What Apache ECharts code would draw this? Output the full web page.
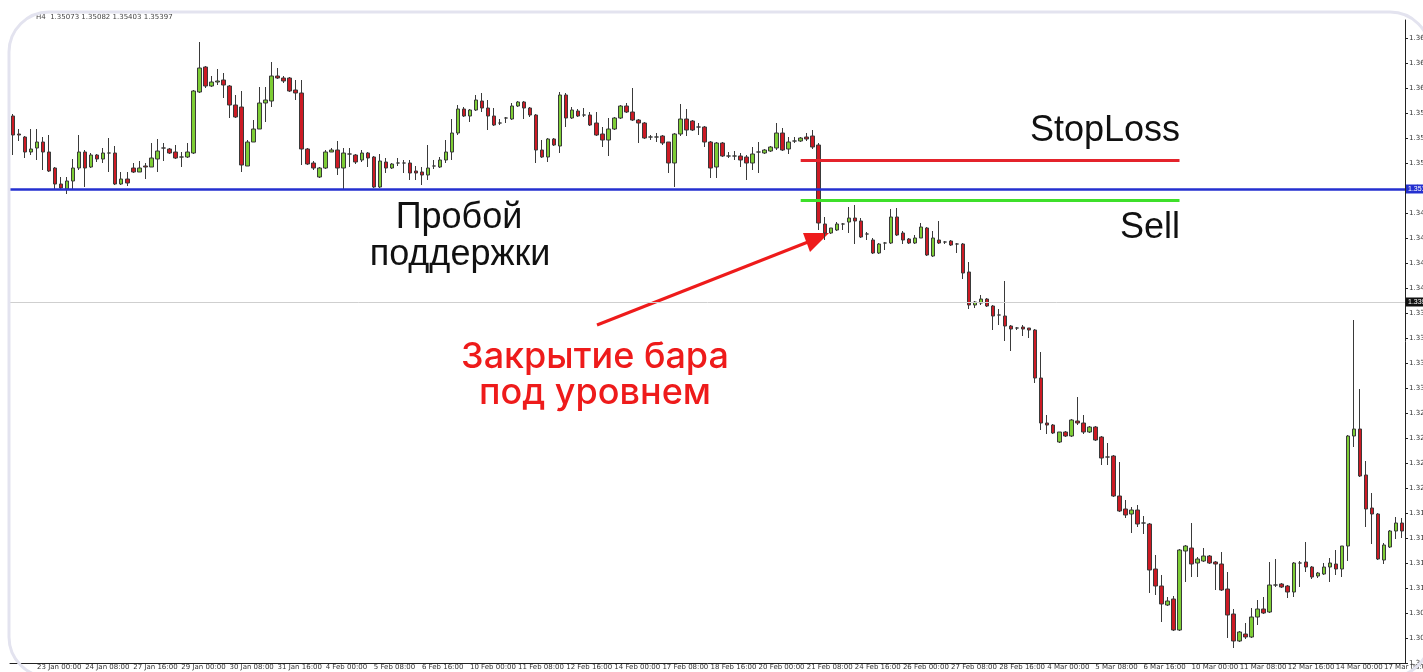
<!DOCTYPE html>
<html>
<head>
<meta charset="utf-8">
<title>Пробой поддержки</title>
<script src="https://cdn.jsdelivr.net/npm/echarts@6/dist/echarts.min.js"></script>
<style>
  html, body { margin: 0; padding: 0; background: #fff; }
  #chart { width: 1423px; height: 672px; }
</style>
</head>
<body>
<div id="chart"></div>
<script>
// H4 bars: [open, close, low, high]
const candles = [
  [1.3584,1.3565,1.3545,1.3586],[1.3566,1.3565,1.3559,1.3571],[1.3563,1.3548,1.3542,1.3564],[1.3548,1.3551,1.3545,1.3571],
  [1.3552,1.3558,1.3540,1.3571],[1.3558,1.3548,1.3530,1.3563],[1.3548,1.3529,1.3528,1.3565],[1.3532,1.3516,1.3511,1.3533],
  [1.3516,1.3512,1.3511,1.3523],[1.3511,1.3519,1.3506,1.3523],[1.3519,1.3532,1.3511,1.3541],[1.3532,1.3548,1.3530,1.3565],
  [1.3548,1.3532,1.3513,1.3550],[1.3533,1.3545,1.3532,1.3547],[1.3545,1.3541,1.3538,1.3546],[1.3541,1.3547,1.3537,1.3552],
  [1.3547,1.3547,1.3528,1.3562],[1.3547,1.3516,1.3515,1.3554],[1.3516,1.3521,1.3515,1.3528],[1.3521,1.3517,1.3514,1.3528],
  [1.3532,1.3528,1.3527,1.3537],[1.3528,1.3532,1.3528,1.3539],[1.3534,1.3533,1.3521,1.3537],[1.3533,1.3542,1.3533,1.3557],
  [1.3541,1.3549,1.3528,1.3561],[1.3552,1.3552,1.3539,1.3557],[1.3551,1.3547,1.3546,1.3552],[1.3548,1.3542,1.3541,1.3555],
  [1.3543,1.3543,1.3533,1.3548],[1.3543,1.3548,1.3542,1.3557],[1.3547,1.3609,1.3546,1.3610],[1.3608,1.3632,1.3607,1.3658],
  [1.3633,1.3614,1.3612,1.3634],[1.3614,1.3618,1.3613,1.3624],[1.3618,1.3619,1.3615,1.3631],[1.3620,1.3615,1.3602,1.3627],
  [1.3614,1.3595,1.3582,1.3615],[1.3595,1.3583,1.3582,1.3605],[1.3593,1.3535,1.3528,1.3609],[1.3534,1.3558,1.3534,1.3560],
  [1.3558,1.3571,1.3558,1.3580],[1.3571,1.3597,1.3571,1.3613],[1.3597,1.3600,1.3578,1.3613],[1.3599,1.3624,1.3593,1.3638],
  [1.3624,1.3622,1.3621,1.3632],[1.3622,1.3619,1.3617,1.3624],[1.3622,1.3609,1.3608,1.3623],[1.3610,1.3607,1.3600,1.3620],
  [1.3607,1.3551,1.3535,1.3620],[1.3551,1.3536,1.3535,1.3552],[1.3537,1.3532,1.3530,1.3539],[1.3523,1.3532,1.3522,1.3533],
  [1.3532,1.3548,1.3531,1.3550],[1.3548,1.3550,1.3548,1.3552],[1.3550,1.3532,1.3525,1.3559],[1.3532,1.3547,1.3510,1.3552],
  [1.3546,1.3546,1.3533,1.3552],[1.3545,1.3538,1.3536,1.3546],[1.3540,1.3547,1.3538,1.3550],[1.3547,1.3542,1.3533,1.3548],
  [1.3543,1.3513,1.3512,1.3544],[1.3513,1.3539,1.3512,1.3546],[1.3538,1.3532,1.3527,1.3542],[1.3532,1.3536,1.3531,1.3537],
  [1.3537,1.3537,1.3534,1.3542],[1.3537,1.3537,1.3527,1.3540],[1.3537,1.3527,1.3520,1.3540],[1.3529,1.3527,1.3520,1.3534],
  [1.3528,1.3525,1.3515,1.3533],[1.3525,1.3532,1.3520,1.3555],[1.3534,1.3534,1.3531,1.3540],[1.3533,1.3540,1.3532,1.3543],
  [1.3540,1.3548,1.3537,1.3560],[1.3548,1.3567,1.3540,1.3581],[1.3567,1.3591,1.3565,1.3595],[1.3591,1.3584,1.3583,1.3593],
  [1.3584,1.3590,1.3578,1.3591],[1.3590,1.3600,1.3589,1.3605],[1.3599,1.3592,1.3588,1.3607],[1.3592,1.3584,1.3570,1.3600],
  [1.3584,1.3575,1.3574,1.3592],[1.3577,1.3577,1.3575,1.3581],[1.3582,1.3582,1.3577,1.3583],[1.3581,1.3594,1.3580,1.3597],
  [1.3594,1.3598,1.3593,1.3599],[1.3598,1.3592,1.3581,1.3599],[1.3592,1.3585,1.3583,1.3593],[1.3585,1.3550,1.3537,1.3586],
  [1.3550,1.3543,1.3542,1.3560],[1.3543,1.3561,1.3538,1.3562],[1.3561,1.3555,1.3554,1.3562],[1.3554,1.3605,1.3547,1.3608],
  [1.3605,1.3582,1.3573,1.3607],[1.3582,1.3590,1.3581,1.3593],[1.3589,1.3584,1.3583,1.3591],[1.3585,1.3585,1.3583,1.3592],
  [1.3585,1.3575,1.3574,1.3588],[1.3577,1.3565,1.3564,1.3588],[1.3566,1.3560,1.3553,1.3573],[1.3560,1.3571,1.3544,1.3582],
  [1.3571,1.3582,1.3570,1.3583],[1.3582,1.3594,1.3581,1.3595],[1.3594,1.3588,1.3587,1.3597],[1.3588,1.3580,1.3579,1.3612],
  [1.3580,1.3577,1.3557,1.3581],[1.3577,1.3562,1.3561,1.3578],[1.3563,1.3563,1.3560,1.3565],[1.3563,1.3563,1.3558,1.3567],
  [1.3564,1.3557,1.3555,1.3565],[1.3558,1.3537,1.3527,1.3558],[1.3537,1.3566,1.3513,1.3567],[1.3566,1.3581,1.3564,1.3596],
  [1.3581,1.3570,1.3564,1.3591],[1.3579,1.3570,1.3569,1.3580],[1.3573,1.3573,1.3565,1.3577],[1.3573,1.3558,1.3553,1.3574],
  [1.3558,1.3532,1.3522,1.3559],[1.3533,1.3557,1.3522,1.3558],[1.3557,1.3544,1.3543,1.3558],[1.3544,1.3544,1.3542,1.3548],
  [1.3544,1.3544,1.3540,1.3549],[1.3544,1.3540,1.3533,1.3547],[1.3543,1.3537,1.3520,1.3545],[1.3537,1.3546,1.3530,1.3553],
  [1.3548,1.3548,1.3527,1.3558],[1.3547,1.3550,1.3546,1.3551],[1.3549,1.3553,1.3548,1.3554],[1.3552,1.3567,1.3550,1.3577],
  [1.3567,1.3550,1.3549,1.3572],[1.3551,1.3558,1.3546,1.3563],[1.3559,1.3559,1.3557,1.3563],[1.3559,1.3562,1.3558,1.3563],
  [1.3563,1.3561,1.3559,1.3567],[1.3564,1.3553,1.3551,1.3570],[1.3555,1.3477,1.3470,1.3557],[1.3476,1.3467,1.3460,1.3483],
  [1.3467,1.3472,1.3466,1.3472],[1.3470,1.3476,1.3469,1.3478],[1.3476,1.3476,1.3470,1.3477],[1.3478,1.3482,1.3467,1.3493],
  [1.3482,1.3479,1.3456,1.3495],[1.3479,1.3463,1.3462,1.3482],[1.3466,1.3466,1.3460,1.3468],[1.3460,1.3447,1.3446,1.3462],
  [1.3447,1.3456,1.3446,1.3457],[1.3457,1.3457,1.3450,1.3458],[1.3457,1.3483,1.3456,1.3491],[1.3483,1.3465,1.3464,1.3492],
  [1.3467,1.3460,1.3456,1.3469],[1.3461,1.3457,1.3456,1.3462],[1.3457,1.3462,1.3456,1.3465],[1.3462,1.3473,1.3462,1.3477],
  [1.3472,1.3445,1.3444,1.3473],[1.3444,1.3462,1.3443,1.3469],[1.3460,1.3457,1.3456,1.3479],[1.3458,1.3458,1.3456,1.3459],
  [1.3459,1.3455,1.3454,1.3460],[1.3456,1.3456,1.3447,1.3457],[1.3456,1.3427,1.3421,1.3457],[1.3428,1.3395,1.3391,1.3438],
  [1.3395,1.3398,1.3392,1.3399],[1.3397,1.3401,1.3395,1.3405],[1.3401,1.3394,1.3393,1.3402],[1.3394,1.3384,1.3370,1.3395],
  [1.3385,1.3385,1.3375,1.3391],[1.3384,1.3374,1.3359,1.3419],[1.3374,1.3371,1.3349,1.3375],[1.3372,1.3372,1.3370,1.3373],
  [1.3373,1.3371,1.3364,1.3375],[1.3372,1.3370,1.3362,1.3372],[1.3370,1.3322,1.3317,1.3371],[1.3322,1.3277,1.3270,1.3348],
  [1.3277,1.3275,1.3266,1.3285],[1.3275,1.3267,1.3266,1.3276],[1.3258,1.3268,1.3257,1.3268],[1.3268,1.3264,1.3263,1.3269],
  [1.3264,1.3280,1.3263,1.3281],[1.3279,1.3277,1.3275,1.3303],[1.3277,1.3268,1.3266,1.3285],[1.3268,1.3273,1.3267,1.3274],
  [1.3273,1.3260,1.3259,1.3274],[1.3263,1.3242,1.3235,1.3264],[1.3243,1.3243,1.3235,1.3257],[1.3244,1.3204,1.3203,1.3245],
  [1.3204,1.3189,1.3188,1.3238],[1.3191,1.3185,1.3182,1.3200],[1.3186,1.3190,1.3167,1.3193],[1.3190,1.3176,1.3173,1.3195],
  [1.3177,1.3177,1.3166,1.3184],[1.3176,1.3130,1.3107,1.3177],[1.3131,1.3114,1.3105,1.3145],[1.3114,1.3096,1.3078,1.3125],
  [1.3095,1.3099,1.3094,1.3103],[1.3101,1.3070,1.3069,1.3104],[1.3070,1.3150,1.3069,1.3151],[1.3149,1.3154,1.3118,1.3155],
  [1.3152,1.3136,1.3123,1.3177],[1.3137,1.3141,1.3123,1.3143],[1.3139,1.3144,1.3138,1.3152],[1.3144,1.3137,1.3136,1.3145],
  [1.3138,1.3136,1.3110,1.3139],[1.3136,1.3110,1.3109,1.3148],[1.3111,1.3085,1.3062,1.3128],[1.3086,1.3059,1.3052,1.3091],
  [1.3059,1.3068,1.3058,1.3069],[1.3066,1.3063,1.3061,1.3077],[1.3063,1.3083,1.3062,1.3092],[1.3083,1.3091,1.3075,1.3100],
  [1.3091,1.3087,1.3086,1.3103],[1.3088,1.3115,1.3087,1.3138],[1.3115,1.3115,1.3113,1.3141],[1.3116,1.3113,1.3112,1.3117],
  [1.3114,1.3108,1.3102,1.3115],[1.3108,1.3137,1.3103,1.3138],[1.3137,1.3137,1.3113,1.3139],[1.3138,1.3133,1.3128,1.3158],
  [1.3133,1.3123,1.3121,1.3134],[1.3124,1.3127,1.3122,1.3128],[1.3126,1.3133,1.3125,1.3137],[1.3133,1.3137,1.3118,1.3142],
  [1.3136,1.3131,1.3125,1.3150],[1.3131,1.3154,1.3123,1.3154],[1.3154,1.3264,1.3139,1.3265],[1.3264,1.3271,1.3253,1.3380],
  [1.3271,1.3224,1.3223,1.3311],[1.3225,1.3191,1.3173,1.3239],[1.3192,1.3186,1.3156,1.3207],[1.3186,1.3141,1.3140,1.3187],
  [1.3140,1.3155,1.3136,1.3157],[1.3153,1.3169,1.3152,1.3170],[1.3169,1.3177,1.3161,1.3183],[1.3177,1.3169,1.3162,1.3182]
];

// time labels, one every 8 bars
const tickLabels = [
  '23 Jan 00:00', '24 Jan 08:00', '27 Jan 16:00', '29 Jan 00:00', '30 Jan 08:00', '31 Jan 16:00',
  '4 Feb 00:00', '5 Feb 08:00', '6 Feb 16:00', '10 Feb 00:00', '11 Feb 08:00', '12 Feb 16:00',
  '14 Feb 00:00', '17 Feb 08:00', '18 Feb 16:00', '20 Feb 00:00', '21 Feb 08:00', '24 Feb 16:00',
  '26 Feb 00:00', '27 Feb 08:00', '28 Feb 16:00', '4 Mar 00:00', '5 Mar 08:00', '6 Mar 16:00',
  '10 Mar 00:00', '11 Mar 08:00', '12 Mar 16:00', '14 Mar 00:00', '17 Mar 08:00'
];
const tickStep = 8;
const tickOffset = 4;

const supportLevel = 1.3511;   // blue line
const greyLevel = 1.3398;      // thin grey line
const stopLossLevel = 1.3540;  // red
const sellLevel = 1.3500;      // green
const levelFrom = 131;
const levelTo = 194;

const categories = candles.map((c, i) => i);

const chart = echarts.init(document.getElementById('chart'));

const option = {
  backgroundColor: '#ffffff',
  animation: false,
  grid: { left: 10, right: 18, top: 20, bottom: 9, containLabel: false, outerBoundsMode: 'none' },
  xAxis: {
    type: 'category',
    data: categories,
    boundaryGap: true,
    axisLine: { lineStyle: { color: '#222', width: 1 } },
    axisTick: {
      alignWithLabel: true,
      interval: (idx) => idx % tickStep === tickOffset,
      length: 3,
      lineStyle: { color: '#222' }
    },
    axisLabel: {
      interval: (idx) => idx % tickStep === tickOffset,
      formatter: (v, idx) => tickLabels[Math.floor(idx / tickStep)] || '',
      align: 'left',
      margin: 1,
      fontSize: 7,
      color: '#333',
      fontFamily: 'DejaVu Sans'
    },
    splitLine: { show: false }
  },
  yAxis: {
    type: 'value',
    position: 'right',
    min: 1.3037,
    max: 1.3680,
    interval: 0.0025,
    scale: true,
    axisLine: { show: true, lineStyle: { color: '#222', width: 1 } },
    axisTick: { show: true, length: 3, lineStyle: { color: '#222' } },
    axisLabel: {
      showMaxLabel: false,
      formatter: (v) => v.toFixed(5),
      fontSize: 7,
      margin: 4,
      color: '#333',
      fontFamily: 'DejaVu Sans'
    },
    splitLine: { show: false }
  },
  series: [
    {
      type: 'candlestick',
      data: candles,
      barWidth: 4,
      itemStyle: {
        color: '#7dcd35',
        color0: '#cc1a24',
        borderColor: '#3a3a3a',
        borderColor0: '#3a3a3a',
        borderColorDoji: '#3a3a3a',
        borderWidth: 1
      },
      markLine: {
        silent: true,
        precision: 4,
        symbol: ['none', 'none'],
        animation: false,
        data: [
          {
            yAxis: supportLevel,
            lineStyle: { color: '#2430d0', width: 2.5, type: 'solid' },
            label: {
              position: 'end', distance: 1,
              formatter: supportLevel.toFixed(5),
              color: '#fff', backgroundColor: '#2430d0',
              fontSize: 7, padding: [1, 2]
            }
          },
          {
            yAxis: greyLevel,
            lineStyle: { color: '#cfcfcf', width: 1, type: 'solid' },
            label: {
              position: 'end', distance: 1,
              formatter: greyLevel.toFixed(5),
              color: '#fff', backgroundColor: '#111',
              fontSize: 7, padding: [1, 2]
            }
          },
          [
            { coord: [levelFrom, stopLossLevel], lineStyle: { color: '#e4232b', width: 3, type: 'solid' }, label: { show: false } },
            { coord: [levelTo, stopLossLevel] }
          ],
          [
            { coord: [levelFrom, sellLevel], lineStyle: { color: '#3ee02a', width: 3, type: 'solid' }, label: { show: false } },
            { coord: [levelTo, sellLevel] }
          ]
        ]
      }
    }
  ],
  graphic: [
    {
      type: 'text', x: 36, y: 17, silent: true,
      style: { text: 'H4  1.35073 1.35082 1.35403 1.35397', font: '7px "DejaVu Sans"', fill: '#444', verticalAlign: 'middle' }
    },
    {
      type: 'text', x: 1180, y: 131, silent: true,
      style: { text: 'StopLoss', font: '36px "Liberation Sans"', fill: '#111', align: 'right', verticalAlign: 'middle' }
    },
    {
      type: 'text', x: 1180, y: 228, silent: true,
      style: { text: 'Sell', font: '36px "Liberation Sans"', fill: '#111', align: 'right', verticalAlign: 'middle' }
    },
    {
      type: 'text', x: 459, y: 218, silent: true,
      style: { text: 'Пробой', font: '36px "Liberation Sans"', fill: '#111', align: 'center', verticalAlign: 'middle' }
    },
    {
      type: 'text', x: 460, y: 255, silent: true,
      style: { text: 'поддержки', font: '36px "Liberation Sans"', fill: '#111', align: 'center', verticalAlign: 'middle' }
    },
    {
      type: 'text', x: 595, y: 357, silent: true,
      style: { text: 'Закрытие бара', font: '500 36px Inter', fill: '#ee1b1b', align: 'center', verticalAlign: 'middle' }
    },
    {
      type: 'text', x: 595, y: 393, silent: true,
      style: { text: 'под уровнем', font: '500 36px Inter', fill: '#ee1b1b', align: 'center', verticalAlign: 'middle' }
    },
    {
      type: 'line', silent: true,
      shape: { x1: 597, y1: 325, x2: 808, y2: 242 },
      style: { stroke: '#ee1b1b', lineWidth: 3 }
    },
    {
      type: 'polygon', silent: true,
      shape: { points: [[829, 233], [803, 233], [810, 252]] },
      style: { fill: '#ee1b1b' }
    },
    {
      type: 'rect', silent: true, z: 100,
      shape: { x: 9, y: 12, width: 1421, height: 665, r: 40 },
      style: { fill: 'none', stroke: '#e3e3ef', lineWidth: 3 }
    }
  ]
};

chart.setOption(option);
</script>
</body>
</html>
